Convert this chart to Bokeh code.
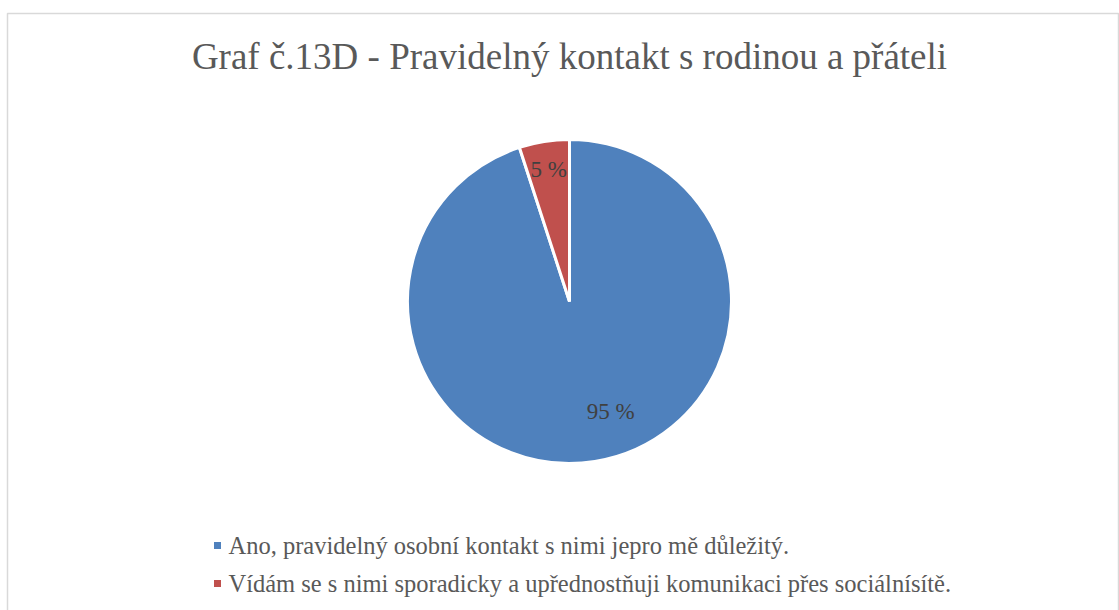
import numpy as np
from bokeh.plotting import figure
from bokeh.models import ColumnDataSource
from bokeh.core.properties import value
from bokeh.embed import file_html
from bokeh.resources import INLINE

title = "Graf č.13D - Pravidelný kontakt s rodinou a přáteli"
categories = [
    "Ano, pravidelný osobní kontakt s nimi jepro mě důležitý.",
    "Vídám se s nimi sporadicky a upřednostňuji komunikaci přes sociálnísítě.",
]
values = [95, 5]
colors = ["#4F81BD", "#C0504D"]

FONT = value("'Liberation Serif', 'Times New Roman', serif")

W, H = 1119, 610
p = figure(width=W, height=H, output_backend="svg", toolbar_location=None,
           x_range=(0, W), y_range=(0, H), min_border=0)
p.axis.visible = False
p.grid.visible = False
p.outline_line_color = None
p.background_fill_color = "white"

# chart border
p.line(x=[7, 7, 1118, 1118], y=[-5, 597, 597, -5], line_color="#d9d9d9", line_width=1.5)

cx, cy, R = 569, 309, 162
vals = np.array(values, dtype=float)
frac = vals / vals.sum()
ends = np.cumsum(frac) * 2 * np.pi
starts = ends - frac * 2 * np.pi
start_ang = np.pi / 2 - starts
end_ang = np.pi / 2 - ends
mid = (start_ang + end_ang) / 2

src = ColumnDataSource(dict(start=start_ang, end=end_ang, color=colors))
p.wedge(x=cx, y=cy, radius=R, start_angle="start", end_angle="end", direction="clock",
        fill_color="color", line_color="white", line_width=3, source=src)

labels = [f"{v:g} %" for v in values]
rr = np.where(frac < 0.5, 0.825, 0.685) * R
lx = cx + rr * np.cos(mid)
ly = cy + rr * np.sin(mid)
align = ["center" if f < 0.5 else "left" for f in frac]
lsrc = ColumnDataSource(dict(x=lx, y=ly, t=labels, a=align))
p.text(x="x", y="y", text="t", text_align="a", text_baseline="middle", source=lsrc,
       text_font=FONT, text_font_size="23px", text_color="#404040")

# title
p.text(x=[cx], y=[554], text=[title], text_align="center", text_baseline="middle",
       text_font=FONT, text_font_size="37px", text_color="#595959")

# legend
ly_leg = [65, 27]
p.scatter(x=[217] * len(categories), y=ly_leg, marker="square", size=7,
          fill_color=colors, line_color=None)
p.text(x=[228] * len(categories), y=ly_leg, text=categories, text_baseline="middle",
       text_font=FONT, text_font_size="24.5px", text_color="#595959")

open("out.html", "w").write(file_html(p, INLINE))
